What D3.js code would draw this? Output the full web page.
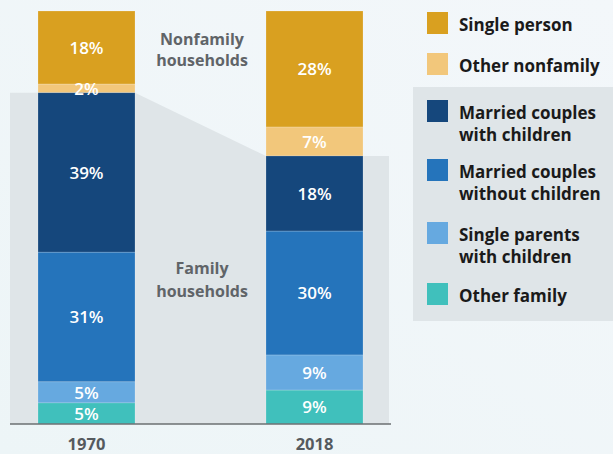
<!DOCTYPE html>
<html><head><meta charset="utf-8">
<script src="https://cdn.jsdelivr.net/npm/d3@7"></script>
<style>
html,body{margin:0;padding:0;}
body{width:613px;height:454px;overflow:hidden;}
svg{display:block;}
</style></head>
<body>
<svg id="chart" width="613" height="454"></svg>
<script>
const years = ["1970", "2018"];
const categories = ["Single person", "Other nonfamily", "Married couples with children", "Married couples without children", "Single parents with children", "Other family"];
const colors = ["#d9a020", "#f2c77b", "#15477c", "#2574bb", "#66a9e0", "#40c0bc"];
const values1970 = [17.7, 2.1, 38.6, 31.4, 5.1, 5.1];
const values2018 = [28.1, 7.0, 18.2, 30.0, 8.5, 8.2];
const labels1970 = ["18%", "2%", "39%", "31%", "5%", "5%"];
const labels2018 = ["28%", "7%", "18%", "30%", "9%", "9%"];
const legendLines = [["Single person"], ["Other nonfamily"], ["Married couples", "with children"], ["Married couples", "without children"], ["Single parents", "with children"], ["Other family"]];

const FONT = "'Open Sans', 'Noto Sans', sans-serif";
const svg = d3.select("#chart");
const W = 613, H = 454;

const defs = svg.append("defs");
const grad = defs.append("linearGradient").attr("id", "bg").attr("x1", 0).attr("y1", 1).attr("x2", 1).attr("y2", 0);
grad.append("stop").attr("offset", 0).attr("stop-color", "#edf5f7");
grad.append("stop").attr("offset", 1).attr("stop-color", "#f3f7fa");
svg.append("rect").attr("width", W).attr("height", H).attr("fill", "url(#bg)");

const x = d3.scaleBand().domain(years).range([10, 391]).paddingInner(0.5746).paddingOuter(0.1228);
const y = d3.scaleLinear().domain([0, 100]).range([424, 11]);

const allValues = [values1970, values2018];
const allLabels = [labels1970, labels2018];

const stacks = allValues.map(vals => {
  let acc = 100;
  return vals.map((v, i) => { const top = acc; acc -= v; return {top, bottom: acc, v, i}; });
});

const famTop = stacks.map(s => s[2].top);
const x0 = x("1970"), x1 = x("2018"), bw = x.bandwidth();

const poly = [
  [10, y(famTop[0])], [x0 + bw, y(famTop[0])], [x1, y(famTop[1])], [389, y(famTop[1])],
  [389, y(0)], [10, y(0)]
];
svg.append("path").attr("d", d3.line()(poly) + "Z").attr("fill", "#dfe5e8");

years.forEach((yr, k) => {
  const g = svg.append("g");
  g.selectAll("rect").data(stacks[k]).join("rect")
    .attr("x", x(yr)).attr("width", bw)
    .attr("y", d => y(d.top)).attr("height", d => y(d.bottom) - y(d.top))
    .attr("fill", d => colors[d.i])
    .attr("stroke", "rgba(255,255,255,0.3)").attr("stroke-width", 0.6);
  g.selectAll("text").data(stacks[k]).join("text")
    .attr("x", x(yr) + bw / 2)
    .attr("y", d => (y(d.top) + y(d.bottom)) / 2)
    .attr("dy", "0.36em")
    .attr("text-anchor", "middle")
    .attr("font-family", FONT).attr("font-size", 17).attr("font-weight", 600)
    .attr("fill", "#ffffff")
    .text(d => allLabels[k][d.i]);
});

const axis = d3.axisBottom(x).tickSize(0).tickPadding(0);
const ag = svg.append("g").attr("transform", `translate(0,${y(0)})`).call(axis);
ag.select(".domain").attr("d", `M10,0H391`).attr("stroke", "#6b6f72").attr("stroke-width", 1.5);
ag.selectAll(".tick text").attr("y", 26).attr("dy", 0)
  .attr("font-family", FONT).attr("font-size", 16.5).attr("font-weight", 700).attr("fill", "#555a5e");

const ann = [
  {lines: ["Nonfamily", "households"], cx: 202, y0: 45, lh: 21},
  {lines: ["Family", "households"], cx: 202, y0: 274, lh: 23}
];
ann.forEach(a => {
  const t = svg.append("text").attr("text-anchor", "middle")
    .attr("font-family", FONT).attr("font-size", 16).attr("font-weight", 700).attr("fill", "#606468");
  a.lines.forEach((l, i) => t.append("tspan").attr("x", a.cx).attr("y", a.y0 + i * a.lh).text(l));
});

svg.append("rect").attr("x", 413).attr("y", 87).attr("width", 200).attr("height", 234).attr("fill", "#dfe5e8");
const swY = [12, 53, 100, 159, 222, 283];
categories.forEach((c, i) => {
  svg.append("rect").attr("x", 427).attr("y", swY[i]).attr("width", 21).attr("height", 22).attr("fill", colors[i]);
  const t = svg.append("text").attr("font-family", FONT).attr("font-size", 17).attr("font-weight", 700).attr("fill", "#1a1a1a");
  legendLines[i].forEach((l, j) => t.append("tspan").attr("x", 459).attr("y", swY[i] + 19 + j * 21.5).text(l));
});
</script>
</body></html>
